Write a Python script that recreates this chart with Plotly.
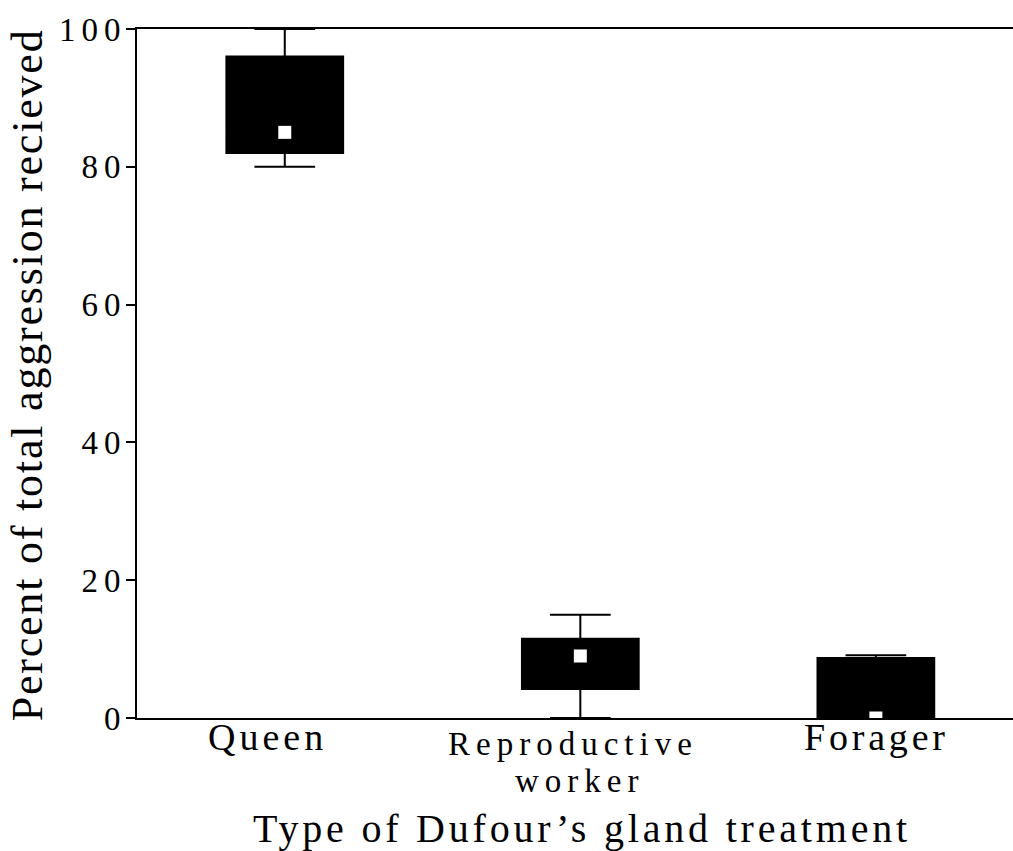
import plotly.graph_objects as go

# Summary statistics for each gland treatment (percent of total aggression received)
categories = ["Queen", "Reproductive worker", "Forager"]
lower_whisker = [80, 0, 0]
q1 = [82, 4.2, 0]
median = [85, 9, 0]
q3 = [96, 11.5, 8.7]
upper_whisker = [100, 15, 9.1]
y_ticks = [0, 20, 40, 60, 80, 100]

FONT = "Liberation Serif"
positions = list(range(len(categories)))


def spaced(text, px):
    return f'<span style="letter-spacing:{px}px">{text}</span>'


fig = go.Figure()

fig.add_trace(go.Box(
    x=positions,
    q1=q1, median=median, q3=q3,
    lowerfence=lower_whisker, upperfence=upper_whisker,
    width=0.395, whiskerwidth=0.52,
    fillcolor="black",
    line=dict(color="black", width=2),
    boxpoints=False, showlegend=False, hoverinfo="skip",
))

# white square marking each median
fig.add_trace(go.Scatter(
    x=positions, y=median, mode="markers",
    marker=dict(symbol="square", size=13, color="white", line=dict(width=0)),
    cliponaxis=True, showlegend=False, hoverinfo="skip",
))

# category labels under the axis
label_style = {
    "Queen": [dict(text="Queen", size=38, ls=4, xshift=-17, y=-0.0279)],
    "Reproductive worker": [
        dict(text="Reproductive", size=33, ls=6, xshift=-7, y=-0.0380),
        dict(text="worker", size=33, ls=6, xshift=-1, y=-0.0915),
    ],
    "Forager": [dict(text="Forager", size=38, ls=3.8, xshift=1, y=-0.0279)],
}
annotations = []
for pos, cat in zip(positions, categories):
    for part in label_style[cat]:
        annotations.append(dict(
            x=pos, xref="x", y=part["y"], yref="paper",
            xanchor="center", yanchor="middle", xshift=part["xshift"],
            text=spaced(part["text"], part["ls"]), showarrow=False,
            font=dict(family=FONT, size=part["size"], color="black"),
        ))

annotations.append(dict(
    x=0.508, xref="paper", y=-0.1600, yref="paper",
    xanchor="center", yanchor="middle",
    text=spaced("Type of Dufour’s gland treatment", 3.8), showarrow=False,
    font=dict(family=FONT, size=40, color="black"),
))
annotations.append(dict(
    x=-0.1252, xref="paper", y=0.4978, yref="paper",
    xanchor="center", yanchor="middle", textangle=-90,
    text=spaced("Percent of total aggression recieved", 1.8), showarrow=False,
    font=dict(family=FONT, size=44, color="black"),
))

fig.update_layout(
    width=1013, height=851,
    margin=dict(l=137, r=0, t=29, b=133, pad=0),
    paper_bgcolor="white", plot_bgcolor="white",
    font=dict(family=FONT, color="black"),
    annotations=annotations,
    showlegend=False,
)
fig.update_xaxes(
    range=[-0.5, 2.464],
    showline=True, linecolor="black", linewidth=2, mirror=True,
    showticklabels=False, ticks="", showgrid=False, zeroline=False,
)
fig.update_yaxes(
    range=[0, 100],
    showline=True, linecolor="black", linewidth=2,
    ticks="outside", ticklen=9, tickwidth=2, tickcolor="black",
    tickvals=y_ticks, ticktext=[spaced(str(v), 6) for v in y_ticks],
    tickfont=dict(family=FONT, size=33, color="black"),
    ticklabelstandoff=-7,
    showgrid=False, zeroline=False,
)

fig.write_html("out.html")
